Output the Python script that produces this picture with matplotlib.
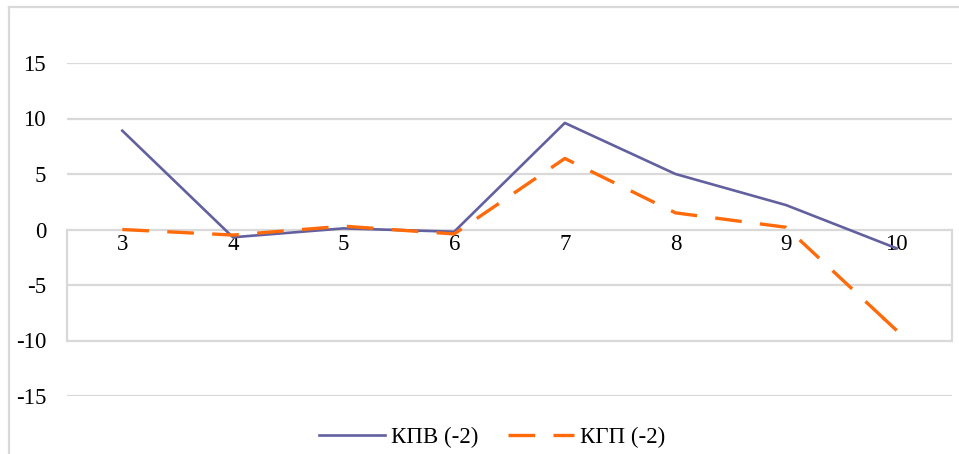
import matplotlib
matplotlib.use("Agg")
import matplotlib.pyplot as plt
from matplotlib.lines import Line2D

categories = ["3", "4", "5", "6", "7", "8", "9", "10"]
kpv = [8.9, -0.7, 0.1, -0.2, 9.6, 5.0, 2.2, -1.7]
kgp = [0.0, -0.5, 0.3, -0.4, 6.4, 1.5, 0.2, -9.1]
series_names = ["КПВ (-2)", "КГП (-2)"]
y_ticks = [15, 10, 5, 0, -5, -10, -15]

W, H = 959, 454
plt.rcParams["font.family"] = ["Liberation Serif", "DejaVu Serif"]
fig = plt.figure(figsize=(W / 100, H / 100), dpi=100)

grid_col = "#d9d9d9"
kpv_col = "#62609f"
kgp_col = "#ff6a0a"
fs = 16.5
dash = (8, 5.5)

# chart frame
fig.add_artist(Line2D([9 / W, 9 / W], [0, 1 - 7 / H], color=grid_col, lw=1.6))
fig.add_artist(Line2D([9 / W, 1], [1 - 7 / H, 1 - 7 / H], color=grid_col, lw=1.6))

left, right = 67 / W, 952 / W
top, bottom = 1 - 63 / H, 1 - 396 / H
ax = fig.add_axes([left, bottom, right - left, top - bottom])
x = list(range(len(categories)))
ax.set_xlim(-0.5, len(categories) - 0.5)
ax.set_ylim(-15, 15)
for s in ax.spines.values():
    s.set_visible(False)
ax.set_xticks([])
ax.set_yticks(y_ticks)
ax.set_yticklabels([str(v) for v in y_ticks], fontsize=fs)
ax.tick_params(axis="y", length=0, pad=15)

for v in y_ticks:
    ax.axhline(v, color=grid_col, lw=1.6, zorder=1)
for xe in ax.get_xlim():
    ax.plot([xe, xe], [0, -10], color=grid_col, lw=1.6, zorder=1, clip_on=False)

for i, c in enumerate(categories):
    ax.annotate(c, (i, 0), xytext=(0, -10.5), textcoords="offset points",
                ha="center", va="center", fontsize=fs)

ax.plot(x, kpv, color=kpv_col, lw=1.9, zorder=3, clip_on=False)
ax.plot(x, kgp, color=kgp_col, lw=2.4, dashes=dash, zorder=3, clip_on=False)
# finish the last dashed segment so it reaches its end value
ax.plot(x[-1:] + [x[-1] - 0.12], [kgp[-1], kgp[-1] + 0.12 * (kgp[-2] - kgp[-1])],
        color=kgp_col, lw=2.4, zorder=3, solid_capstyle="butt")

handles = [Line2D([], [], color=kpv_col, lw=1.9),
           Line2D([], [], color=kgp_col, lw=2.4, dashes=dash)]
fig.legend(handles, series_names, loc="center", bbox_to_anchor=(492 / W, 1 - 437 / H),
           ncol=2, frameon=False, fontsize=fs, handlelength=2.9, handletextpad=0.25,
           columnspacing=1.3)

fig.savefig("out.png", dpi=100, facecolor="white")
